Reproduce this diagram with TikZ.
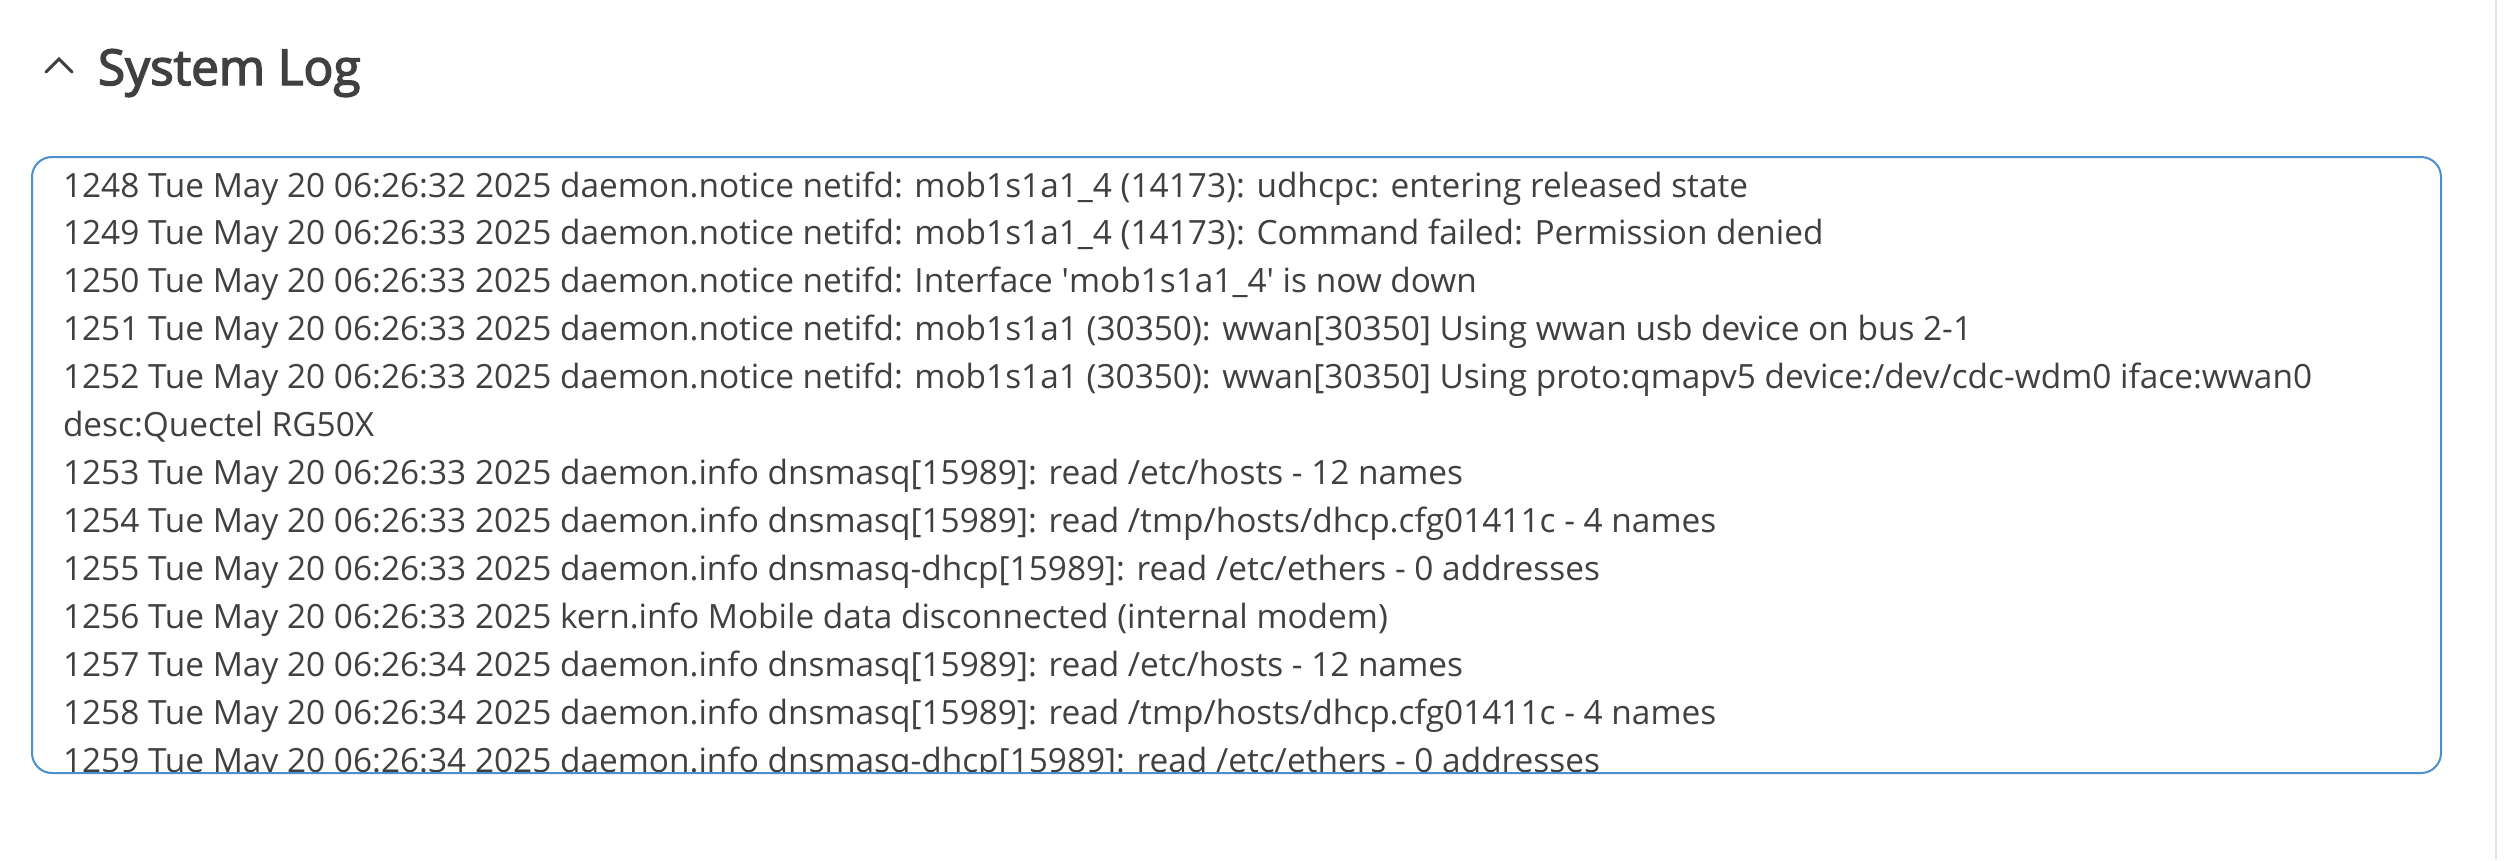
\documentclass[tikz,border=0pt]{standalone}
\usepackage{fontspec}
\setmainfont{Open Sans}
\IfFontExistsTF{Open Sans SemiBold}{\newfontfamily\titlefont{Open Sans SemiBold}}{\newfontfamily\titlefont{Open Sans}[FakeBold=3]}
\newfontfamily\logfont{Open Sans}
\definecolor{txt}{HTML}{404040}
\definecolor{boxblue}{HTML}{4A8FCF}
\definecolor{sepgray}{HTML}{E2E2E2}
\tikzset{
  logline/.style={anchor=base west, inner sep=0pt, outer sep=0pt, text=txt, font=\fontsize{33.4}{40}\logfont},
  titletext/.style={anchor=base west, inner sep=0pt, outer sep=0pt, text=txt, font=\fontsize{49.5}{58}\titlefont},
  logbox/.style={draw=boxblue, line width=2pt, rounded corners=20pt}
}
\begin{document}
\begin{tikzpicture}[x=1pt,y=-1pt]
\fill[white] (0,0) rectangle (2517,860);
\useasboundingbox (0,0) rectangle (2517,860);
% right separator
\draw[sepgray, line width=2pt] (2496,0) -- (2496,860);
% chevron
\draw[txt, line width=3pt, line cap=round, line join=miter] (46,72) -- (59,59) -- (72,72);
\node[titletext] (title) at (98,85) {System Log};
% log box
\begin{scope}
\clip[rounded corners=19pt] (33,158) rectangle (2440,772);
\node[logline] (l1) at (63,197) {1248 Tue May 20 06:26:32 2025 daemon.notice netifd: mob1s1a1\_4 (14173): udhcpc: entering released state};
\node[logline] (l2) at (63,244.95) {1249 Tue May 20 06:26:33 2025 daemon.notice netifd: mob1s1a1\_4 (14173): Command failed: Permission denied};
\node[logline] (l3) at (63,292.9) {1250 Tue May 20 06:26:33 2025 daemon.notice netifd: Interface \textquotesingle mob1s1a1\_4\textquotesingle\ is now down};
\node[logline] (l4) at (63,340.85) {1251 Tue May 20 06:26:33 2025 daemon.notice netifd: mob1s1a1 (30350): wwan[30350] Using wwan usb device on bus 2-1};
\node[logline] (l5) at (63,388.8) {1252 Tue May 20 06:26:33 2025 daemon.notice netifd: mob1s1a1 (30350): wwan[30350] Using proto:qmapv5 device:/dev/cdc-wdm0 iface:wwan0};
\node[logline] (l6) at (63,436.75) {desc:Quectel RG50X};
\node[logline] (l7) at (63,484.7) {1253 Tue May 20 06:26:33 2025 daemon.info dnsmasq[15989]: read /etc/hosts - 12 names};
\node[logline] (l8) at (63,532.65) {1254 Tue May 20 06:26:33 2025 daemon.info dnsmasq[15989]: read /tmp/hosts/dhcp.cfg01411c - 4 names};
\node[logline] (l9) at (63,580.6) {1255 Tue May 20 06:26:33 2025 daemon.info dnsmasq-dhcp[15989]: read /etc/ethers - 0 addresses};
\node[logline] (l10) at (63,628.55) {1256 Tue May 20 06:26:33 2025 kern.info Mobile data disconnected (internal modem)};
\node[logline] (l11) at (63,676.5) {1257 Tue May 20 06:26:34 2025 daemon.info dnsmasq[15989]: read /etc/hosts - 12 names};
\node[logline] (l12) at (63,724.45) {1258 Tue May 20 06:26:34 2025 daemon.info dnsmasq[15989]: read /tmp/hosts/dhcp.cfg01411c - 4 names};
\node[logline] (l13) at (63,772.4) {1259 Tue May 20 06:26:34 2025 daemon.info dnsmasq-dhcp[15989]: read /etc/ethers - 0 addresses};
\end{scope}
\draw[logbox] (32,157) rectangle (2441,773);
\end{tikzpicture}
\end{document}
